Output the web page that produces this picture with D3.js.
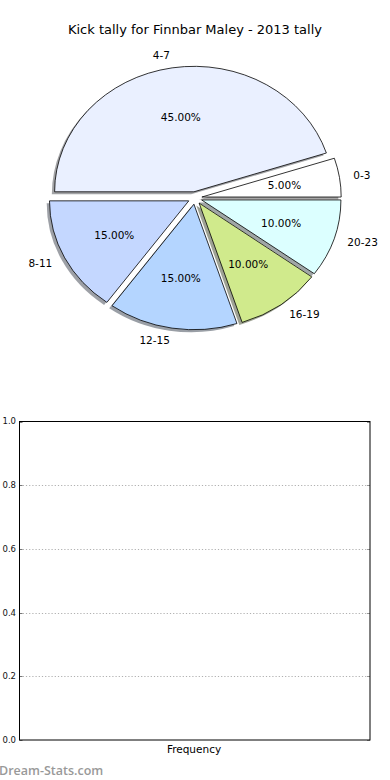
<!DOCTYPE html>
<html>
<head>
<meta charset="utf-8">
<script src="https://cdn.jsdelivr.net/npm/d3@7"></script>
<style>
  body { margin: 0; background: #fff; }
  svg { display: block; font-family: "DejaVu Sans", sans-serif; }
</style>
</head>
<body>
<div class="module"></div>
<script>
// pie data, matplotlib order (counter clockwise from 3 o'clock)
const labels = ["0-3", "4-7", "8-11", "12-15", "16-19", "20-23"];
const values = [5, 45, 15, 15, 10, 10];
const colors = ["#ffffff", "#eaf0ff", "#c4d7ff", "#b4d5ff", "#d0ea8c", "#dcffff"];

// bottom chart ticks
const yTicks = [0.0, 0.2, 0.4, 0.6, 0.8, 1.0];

const W = 390, H = 780;
const svg = d3.select(".module")
  .append("svg")
    .attr("width", W)
    .attr("height", H);

// title
svg.append("text")
  .attr("x", 195)
  .attr("y", 34)
  .attr("text-anchor", "middle")
  .style("font-size", "13px")
  .text("Kick tally for Finnbar Maley - 2013 tally");

// ---- pie ----
const cx = 195, cy = 198, rx = 139.3, ry = 125.5;
const explode = 0.05;

const pie = d3.pie()
  .sort(null)
  .startAngle(Math.PI / 2)
  .endAngle(Math.PI / 2 - 2 * Math.PI);

const arcs = pie(values);
const arc = d3.arc().innerRadius(0).outerRadius(1);

function mid(d) { return (d.startAngle + d.endAngle) / 2; }
function offset(d, k) {
  const m = mid(d);
  return [cx + Math.sin(m) * k * rx, cy - Math.cos(m) * k * ry];
}

const g = svg.append("g");

// shadows first, under all wedges
g.selectAll("path.shadow")
  .data(arcs)
  .enter()
  .append("path")
    .attr("class", "shadow")
    .attr("transform", d => {
      const p = offset(d, explode);
      return `translate(${p[0] - 0.02 * rx},${p[1] + 0.02 * ry}) scale(${rx},${ry})`;
    })
    .attr("d", arc)
    .attr("vector-effect", "non-scaling-stroke")
    .style("fill", (d, i) => {
      const c = d3.rgb(colors[i]);
      return d3.rgb(c.r * 0.3, c.g * 0.3, c.b * 0.3);
    })
    .style("fill-opacity", 0.5)
    .style("stroke", "none");

g.selectAll("path.wedge")
  .data(arcs)
  .enter()
  .append("path")
    .attr("class", "wedge")
    .attr("transform", d => {
      const p = offset(d, explode);
      return `translate(${p[0]},${p[1]}) scale(${rx},${ry})`;
    })
    .attr("d", arc)
    .attr("vector-effect", "non-scaling-stroke")
    .style("fill", (d, i) => colors[i])
    .style("stroke", "#000")
    .style("stroke-width", 0.8);

// outer labels
g.selectAll("text.lab")
  .data(arcs)
  .enter()
  .append("text")
    .attr("class", "lab")
    .attr("x", d => offset(d, explode + 1.1)[0])
    .attr("y", d => offset(d, explode + 1.1)[1])
    .attr("dy", "0.35em")
    .attr("text-anchor", d => Math.sin(mid(d)) > 0 ? "start" : "end")
    .style("font-size", "10.5px")
    .text((d, i) => labels[i]);

// percentages
const total = d3.sum(values);
g.selectAll("text.pct")
  .data(arcs)
  .enter()
  .append("text")
    .attr("class", "pct")
    .attr("x", d => offset(d, explode + 0.6)[0])
    .attr("y", d => offset(d, explode + 0.6)[1])
    .attr("dy", "0.35em")
    .attr("text-anchor", "middle")
    .style("font-size", "10.5px")
    .text(d => (d.value / total * 100).toFixed(2) + "%");

// ---- empty bar chart ----
const axLeft = 19.5, axRight = 370, axTop = 421.5, axBottom = 740;

const y = d3.scaleLinear()
  .domain([0, 1])
  .range([axBottom, axTop]);

const frame = svg.append("g");

// dotted grid
frame.selectAll("line.grid")
  .data(yTicks.slice(1, -1))
  .enter()
  .append("line")
    .attr("class", "grid")
    .attr("x1", axLeft)
    .attr("x2", axRight)
    .attr("y1", d => Math.round(y(d)) + 0.5)
    .attr("y2", d => Math.round(y(d)) + 0.5)
    .style("stroke", "#b0b0b0")
    .style("stroke-width", 1.2)
    .style("stroke-dasharray", "1.2,2");

// inner ticks, both sides
frame.selectAll("line.tl")
  .data(yTicks)
  .enter()
  .append("line")
    .attr("x1", axLeft)
    .attr("x2", axLeft + 3)
    .attr("y1", d => Math.round(y(d)) + 0.5)
    .attr("y2", d => Math.round(y(d)) + 0.5)
    .style("stroke", "#777");
frame.selectAll("line.tr")
  .data(yTicks)
  .enter()
  .append("line")
    .attr("x1", axRight - 3)
    .attr("x2", axRight)
    .attr("y1", d => Math.round(y(d)) + 0.5)
    .attr("y2", d => Math.round(y(d)) + 0.5)
    .style("stroke", "#999");

frame.append("rect")
  .attr("x", axLeft)
  .attr("y", axTop)
  .attr("width", axRight - axLeft)
  .attr("height", axBottom - axTop)
  .style("fill", "none")
  .style("stroke", "#000")
  .style("stroke-width", 1);

frame.selectAll("text.yt")
  .data(yTicks)
  .enter()
  .append("text")
    .attr("x", 16)
    .attr("y", d => y(d))
    .attr("dy", "0.35em")
    .attr("text-anchor", "end")
    .style("font-size", "8.5px")
    .style("fill", "#111")
    .text(d => d.toFixed(1));

frame.append("text")
  .attr("x", 194)
  .attr("y", 753)
  .attr("text-anchor", "middle")
  .style("font-size", "10.5px")
  .text("Frequency");

// watermark
svg.append("text")
  .attr("x", -1)
  .attr("y", 775)
  .style("font-family", "'Open Sans', sans-serif")
  .style("font-weight", "600")
  .style("font-size", "12.5px")
  .style("fill", "#999")
  .text("Dream-Stats.com");
</script>
</body>
</html>
